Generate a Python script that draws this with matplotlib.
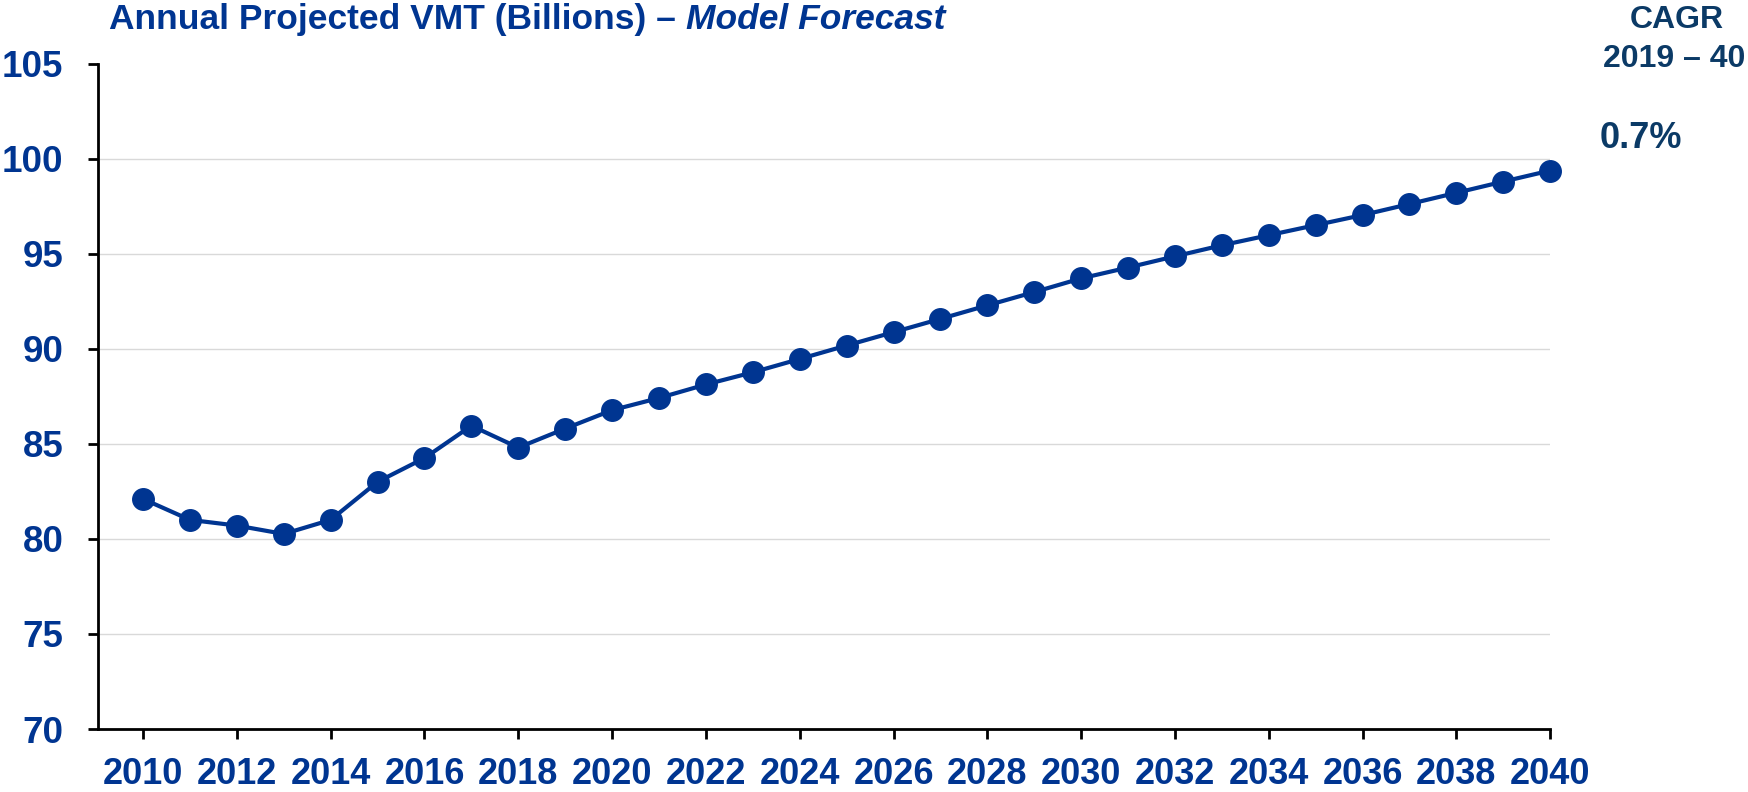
"""
Annual projected VMT line chart with CAGR callout
"""

import matplotlib.pyplot as plt

years = list(range(2010, 2041))
vmt_billions = [82.1, 81.0, 80.7, 80.26, 81.0, 83.0, 84.25, 85.95, 84.8, 85.8,
                86.77, 87.41, 88.12, 88.76, 89.46, 90.17, 90.87, 91.57, 92.28, 92.98,
                93.7, 94.27, 94.86, 95.44, 95.97, 96.5, 97.03, 97.61, 98.2, 98.79,
                99.37]
x_ticks = list(range(2010, 2041, 2))
y_ticks = [70, 75, 80, 85, 90, 95, 100, 105]
cagr_label = "0.7%"

BLUE = '#003591'
NAVY = '#0B3A66'

plt.rcParams['font.family'] = ['Liberation Sans', 'DejaVu Sans']
plt.rcParams['font.weight'] = 'bold'

fig = plt.figure(figsize=(17.48, 7.92), dpi=100)
ax = fig.add_axes([0.0561, 0.0795, 0.8307, 0.8403])

# light horizontal guides, none on the top and bottom ticks
ax.hlines(y_ticks[1:-1], 2009.04, 2040, color='#d9d9d9', linewidth=1.0, zorder=1)

ax.plot(years, vmt_billions, '-o', color=BLUE, linewidth=3.0,
        markersize=15.5, zorder=3, clip_on=False)

ax.set_xlim(2009.04, 2040)
ax.set_ylim(70, 105)
ax.set_xticks(x_ticks)
ax.set_yticks(y_ticks)
ax.tick_params(axis='both', direction='out', length=7, width=2, color='black',
               labelcolor=BLUE)
ax.tick_params(axis='x', pad=13, labelsize=26)
ax.tick_params(axis='y', pad=18, labelsize=26.5)
for lbl in ax.get_xticklabels() + ax.get_yticklabels():
    lbl.set_fontweight('bold')

for side in ['top', 'right']:
    ax.spines[side].set_visible(False)
for side in ['left', 'bottom']:
    ax.spines[side].set_linewidth(2)

# title: upright part followed by italic part
title_a = fig.text(0.0624, 0.964, "Annual Projected VMT (Billions) \u2013 ", color=BLUE,
                   fontsize=25.5, fontweight='bold', ha='left', va='baseline')
fig.canvas.draw()
bb = title_a.get_window_extent(renderer=fig.canvas.get_renderer())
fig.text(bb.x1 / fig.bbox.width, 0.964, "Model Forecast", color=BLUE, fontsize=25.5,
         fontweight='bold', fontstyle='italic', ha='left', va='baseline')

fig.text(0.959, 0.9646, "CAGR", color=NAVY, fontsize=23, fontweight='bold',
         ha='center', va='baseline')
fig.text(0.958, 0.9154, "2019 \u2013 40", color=NAVY, fontsize=23, fontweight='bold',
         ha='center', va='baseline')
fig.text(0.939, 0.813, cagr_label, color=NAVY, fontsize=26, fontweight='bold',
         ha='center', va='baseline')

fig.savefig('out.png', dpi=100, facecolor='white')
